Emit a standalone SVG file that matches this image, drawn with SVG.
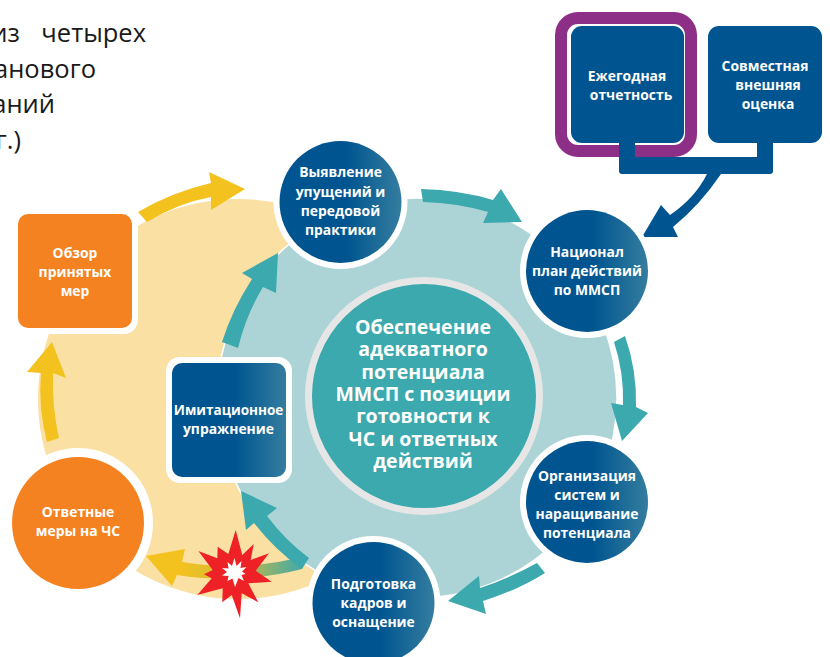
<svg xmlns="http://www.w3.org/2000/svg" width="830" height="657" viewBox="0 0 830 657">
<style>
text{font-family:"Open Sans","Noto Sans","Liberation Sans",sans-serif}
.l{font-weight:700;font-size:13.900px;fill:#fff;text-anchor:middle}
.c{font-weight:700;font-size:19.500px;fill:#fff;text-anchor:middle}
.b{font-size:25.500px;fill:#1a1a1a;text-anchor:end}
.ring{fill:#fff}
.blue{fill:url(#g)}
.solid{fill:#005590}
.teal{fill:#3BA9AD}
.yellow{fill:#F4C21F}
.orange{fill:#F58220}
</style>
<defs>
<linearGradient id="g" x1="0" x2="1" y1="0" y2="0"><stop offset="0" stop-color="#005590"/><stop offset=".55" stop-color="#005590"/><stop offset="1" stop-color="#347D9F"/></linearGradient>
<linearGradient id="y" gradientUnits="userSpaceOnUse" x1="180" x2="305" y1="0" y2="0"><stop offset="0" stop-color="#F4C21F"/><stop offset=".45" stop-color="#CDBB3C"/><stop offset="1" stop-color="#3BA9AD"/></linearGradient>
</defs>
<g id="intro">
<text class="b" x="146" y="42" word-spacing="15">из четырех</text>
<text class="b" x="96" y="78">анового</text>
<text class="b" x="55" y="113">аний</text>
<text class="b" x="21" y="149">г.)</text>
</g>
<g id="backdrop">
<circle cx="238" cy="399" r="200" fill="#FBE0A3"/>
<circle cx="417" cy="398" r="200" fill="#ACD4D6" stroke="#fff" stroke-width="1.5"/>
</g>
<g id="connectors">
<path class="yellow" d="M138 212Q172 192 211 183L209 172L245 189L211 210L211 197Q178 203 147 222Z"/>
<path class="yellow" d="M47 442Q38 408 41 373L27 372L52 342L66 378L53 373Q52 408 59 438Z"/>
<path d="M182 562Q240 572 298 558L302 569Q240 585 177 575L172 586L146 556L185 549Z" fill="url(#y)"/>
<path class="teal" d="M309 558Q285 540 267 516L277 508L241 491L246 530L254 523Q275 550 302 569Z"/>
<path class="teal" d="M222 342Q232 310 252 279L242 273L278 253L276 293L263 287Q246 315 238 348Z"/>
<path class="teal" d="M421 189Q460 190 493 200L501 189L522 222L483 223L488 212Q458 203 423 202Z"/>
<path class="teal" d="M614 342Q624 372 623 405L611 403L622 441L648 413L636 407Q637 370 625 336Z"/>
<path class="teal" d="M537 563Q510 578 480 588L479 576L448 601L486 614L483 601Q518 590 545 573Z"/>
</g>
<g id="node-reporting">
<rect x="561" y="18" width="130" height="133" rx="17" fill="#fff" stroke="#8E2F87" stroke-width="12"/>
<rect class="solid" x="571" y="26" width="113" height="117" rx="11"/>
<text class="l" x="627" y="81">Ежегодная</text>
<text class="l" x="631" y="100">отчетность</text>
</g>
<g id="node-assessment">
<rect class="solid" x="708" y="26" width="114" height="117" rx="11"/>
<text class="l" x="765" y="71">Совместная</text>
<text class="l" x="768" y="90">внешняя</text>
<text class="l" x="768" y="109">оценка</text>
</g>
<g id="connector-top">
<path class="solid" d="M619 143H635V157H757V143H773V171Q773 174 770 174H721Q700 205 673 227L678 237H642L661 205L670 215Q695 198 707 174H622Q619 174 619 171Z"/>
</g>
<g id="node-gaps">
<circle class="ring" cx="340.500" cy="202" r="67"/>
<circle class="blue" cx="340.500" cy="202" r="61"/>
<text class="l" x="340.500" y="177">Выявление</text>
<text class="l" x="340.500" y="197">упущений и</text>
<text class="l" x="340.500" y="216">передовой</text>
<text class="l" x="340.500" y="235">практики</text>
</g>
<g id="node-plan">
<circle class="ring" cx="587" cy="271" r="67"/>
<circle class="blue" cx="587" cy="271" r="61"/>
<text class="l" x="587" y="257">Национал</text>
<text class="l" x="587" y="276">план действий</text>
<text class="l" x="587" y="295">по ММСП</text>
</g>
<g id="node-systems">
<circle class="ring" cx="587" cy="502" r="67"/>
<circle class="blue" cx="587" cy="502" r="61"/>
<text class="l" x="587" y="481">Организация</text>
<text class="l" x="587" y="500">систем и</text>
<text class="l" x="587" y="519">наращивание</text>
<text class="l" x="587" y="538">потенциала</text>
</g>
<g id="node-training">
<circle class="ring" cx="373.500" cy="603" r="67"/>
<circle class="blue" cx="373.500" cy="603" r="61"/>
<text class="l" x="373.500" y="589">Подготовка</text>
<text class="l" x="373.500" y="608">кадров и</text>
<text class="l" x="373.500" y="627">оснащение</text>
</g>
<g id="node-response">
<circle class="ring" cx="78" cy="523" r="75"/>
<circle class="orange" cx="78" cy="523" r="66"/>
<text class="l" x="78" y="517">Ответные</text>
<text class="l" x="78" y="536">меры на ЧС</text>
</g>
<g id="node-review">
<rect class="ring" x="12" y="208" width="126" height="126" rx="14"/>
<rect class="orange" x="18" y="214" width="114" height="114" rx="10"/>
<text class="l" x="75" y="258">Обзор</text>
<text class="l" x="75" y="277">принятых</text>
<text class="l" x="75" y="296">мер</text>
</g>
<g id="node-exercise">
<rect class="ring" x="166" y="357" width="126" height="126" rx="14"/>
<rect class="blue" x="172" y="363" width="114" height="114" rx="10"/>
<text class="l" x="228.500" y="415" font-size="13.500" style="font-size:13.500px">Имитационное</text>
<text class="l" x="228.500" y="434">упражнение</text>
</g>
<g id="node-center">
<circle cx="424" cy="396" r="115.500" fill="#3BA9AD" stroke="#E6E6E6" stroke-width="7"/>
<text class="c" x="423" y="334">Обеспечение</text>
<text class="c" x="423" y="356">адекватного</text>
<text class="c" x="423" y="379">потенциала</text>
<text class="c" x="423" y="401">ММСП с позиции</text>
<text class="c" x="423" y="423">готовности к</text>
<text class="c" x="423" y="446">ЧС и ответных</text>
<text class="c" x="423" y="468">действий</text>
</g>
<g id="burst">
<polygon fill="#EE2226" points="235.700,530 242.300,555 253.700,544 250.700,560 269,553.300 255.700,570.700 271.700,581.700 248.300,583.300 258.300,602.300 241.700,593.300 240,618.300 231.700,595 222.300,602.300 222.700,588.300 197.300,595 211.700,578.300 204,574.300 212.700,570 198.300,551 217.300,558.300 217.700,546.700 228.300,554"/>
<polygon fill="#fff" points="234.500,558 236.500,566 241.500,561 240.500,568 246.500,567 242,571.500 245.500,574 241.500,575 244,581 238.500,578 235,587 232.500,578.500 227.500,581 228.500,576 222,575.500 227,572 222,568 228.500,568.500 227.500,562 232,566"/>
</g>
</svg>
